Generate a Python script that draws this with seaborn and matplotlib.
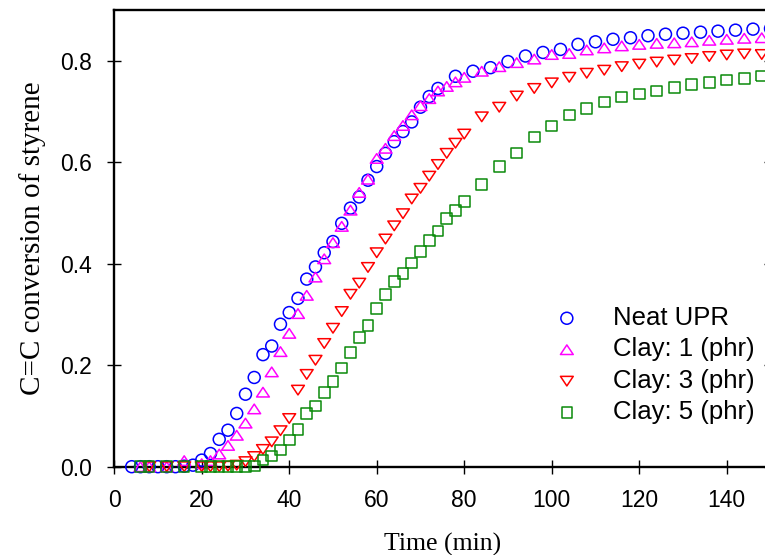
import matplotlib
matplotlib.use("Agg")
import matplotlib.pyplot as plt
from matplotlib.path import Path
import seaborn as sns

# time (min) and C=C conversion
neat_time = [4, 6, 8, 10, 12, 14, 16, 18, 20, 22, 24, 26, 28, 30, 32, 34, 36, 38, 40,
             42, 44, 46, 48, 50, 52, 54, 56, 58, 60, 62, 64, 66, 68, 70, 72, 74,
             78, 82, 86, 90, 94, 98, 102, 106, 110, 114, 118, 122, 126, 130, 134,
             138, 142, 146, 150]
neat_conv = [0.000, 0.000, 0.000, 0.000, 0.000, 0.000, 0.001, 0.003, 0.013, 0.026,
             0.054, 0.072, 0.105, 0.143, 0.176, 0.221, 0.238, 0.281, 0.304, 0.332,
             0.370, 0.394, 0.422, 0.444, 0.480, 0.510, 0.532, 0.565, 0.592, 0.618,
             0.641, 0.661, 0.680, 0.709, 0.730, 0.746, 0.770, 0.780, 0.787, 0.799,
             0.810, 0.817, 0.823, 0.833, 0.838, 0.843, 0.846, 0.850, 0.853, 0.855,
             0.857, 0.859, 0.861, 0.863, 0.864]

clay1_time = [6, 8, 12, 16, 20, 22, 24, 26, 28, 30, 32, 34, 36, 38, 40, 42, 44, 46,
              48, 50, 52, 54, 56, 58, 60, 62, 64, 66, 68, 70, 72, 74, 76, 78, 80,
              84, 88, 92, 96, 100, 104, 108, 112, 116, 120, 124, 128, 132, 136, 140,
              144, 148]
clay1_conv = [0.000, 0.000, 0.000, 0.012, 0.006, 0.012, 0.025, 0.042, 0.062, 0.086,
              0.114, 0.147, 0.187, 0.227, 0.263, 0.302, 0.338, 0.374, 0.410, 0.442,
              0.474, 0.506, 0.541, 0.567, 0.608, 0.628, 0.653, 0.673, 0.694, 0.712,
              0.726, 0.741, 0.750, 0.759, 0.768, 0.780, 0.789, 0.797, 0.804, 0.813,
              0.815, 0.822, 0.826, 0.830, 0.833, 0.835, 0.836, 0.838, 0.841, 0.843,
              0.845, 0.846]

clay3_time = [8, 12, 16, 20, 22, 24, 26, 28, 30, 32, 34, 36, 38, 40, 42, 44, 46,
              48, 50, 52, 54, 56, 58, 60, 62, 64, 66, 68, 70, 72, 74, 76, 78, 80,
              84, 88, 92, 96, 100, 104, 108, 112, 116, 120, 124, 128, 132, 136, 140,
              144, 148]
clay3_conv = [0.000, 0.000, 0.000, 0.000, 0.000, 0.000, 0.001, 0.003, 0.010, 0.020,
              0.034, 0.049, 0.071, 0.095, 0.151, 0.182, 0.210, 0.243, 0.273, 0.306,
              0.340, 0.362, 0.393, 0.422, 0.449, 0.475, 0.499, 0.528, 0.549, 0.573,
              0.596, 0.618, 0.638, 0.656, 0.690, 0.709, 0.731, 0.746, 0.757, 0.768,
              0.776, 0.782, 0.789, 0.794, 0.798, 0.802, 0.805, 0.809, 0.812, 0.814,
              0.813]

clay5_time = [6, 8, 12, 16, 20, 22, 24, 26, 28, 30, 32, 34, 36, 38, 40, 42, 44, 46,
              48, 50, 52, 54, 56, 58, 60, 62, 64, 66, 68, 70, 72, 74, 76, 78, 80,
              84, 88, 92, 96, 100, 104, 108, 112, 116, 120, 124, 128, 132, 136, 140,
              144, 148]
clay5_conv = [0.000, 0.000, 0.000, 0.000, 0.000, 0.000, 0.000, 0.000, 0.000, 0.000,
              0.001, 0.013, 0.021, 0.033, 0.053, 0.073, 0.105, 0.120, 0.146, 0.168,
              0.195, 0.225, 0.255, 0.279, 0.312, 0.340, 0.365, 0.381, 0.402, 0.424,
              0.446, 0.465, 0.489, 0.505, 0.523, 0.557, 0.592, 0.619, 0.650, 0.672,
              0.694, 0.707, 0.719, 0.729, 0.735, 0.741, 0.748, 0.754, 0.758, 0.763,
              0.766, 0.771]

x_ticks = [0, 20, 40, 60, 80, 100, 120, 140]
y_ticks = [0.0, 0.2, 0.4, 0.6, 0.8]
y_tick_labels = ["0.0", "0.2", "0.4", "0.6", "0.8"]

sns.set_style("ticks")
plt.rcParams["font.family"] = ["Liberation Sans", "DejaVu Sans"]
plt.rcParams["text.color"] = "black"
plt.rcParams["axes.labelcolor"] = "black"

fig = plt.figure(figsize=(7.65, 5.55), dpi=100)
# right spine sits just past the edge of the picture, like the original
ax = fig.add_axes([0.1493, 0.1591, 0.8579, 0.8222])

# slightly flattened open triangles, closed paths
tri_up = Path([(-1, -0.75), (1, -0.75), (0, 0.75), (-1, -0.75)], closed=True)
tri_down = Path([(-1, 0.75), (1, 0.75), (0, -0.75), (-1, 0.75)], closed=True)

series = [
    ("Neat UPR", neat_time, neat_conv, "o", "#0000ff", 8.6),
    ("Clay: 1 (phr)", clay1_time, clay1_conv, tri_up, "#ff00ff", 9.2),
    ("Clay: 3 (phr)", clay3_time, clay3_conv, tri_down, "#ff0000", 9.2),
    ("Clay: 5 (phr)", clay5_time, clay5_conv, "s", "#0a8a0a", 7.6),
]
for label, t, conv, marker, color, ms in series:
    sns.scatterplot(x=t, y=conv, ax=ax, marker=marker, s=ms ** 2,
                    color=color, facecolor="none", edgecolor=color,
                    linewidth=1.1, label=label, clip_on=False, zorder=3)

ax.set_xlim(0, 150)
ax.set_ylim(0, 0.9)
ax.set_xticks(x_ticks)
ax.set_yticks(y_ticks)
ax.set_yticklabels(y_tick_labels)

for side in ["left", "right", "top", "bottom"]:
    ax.spines[side].set_linewidth(1.7)
    ax.spines[side].set_color("black")

ax.tick_params(axis="both", direction="inout", length=10, width=1.0,
               labelsize=16.5, pad=11, colors="black")
ax.tick_params(axis="y", right=True, labelright=False)

ax.set_xlabel("Time (min)", fontfamily="Liberation Serif", fontsize=18.5, labelpad=15)
ax.set_ylabel("C=C conversion of styrene", fontfamily="Liberation Serif",
              fontsize=21, labelpad=10)

ax.legend(loc="upper left", bbox_to_anchor=(554 / 765, 1 - 306 / 555),
          bbox_transform=fig.transFigure, frameon=False,
          prop={"family": "Liberation Sans", "size": 18.5},
          handlelength=1.0, handletextpad=1.29, labelspacing=0.29,
          borderpad=0, borderaxespad=0, scatterpoints=1)

fig.savefig("out.png", dpi=100)
